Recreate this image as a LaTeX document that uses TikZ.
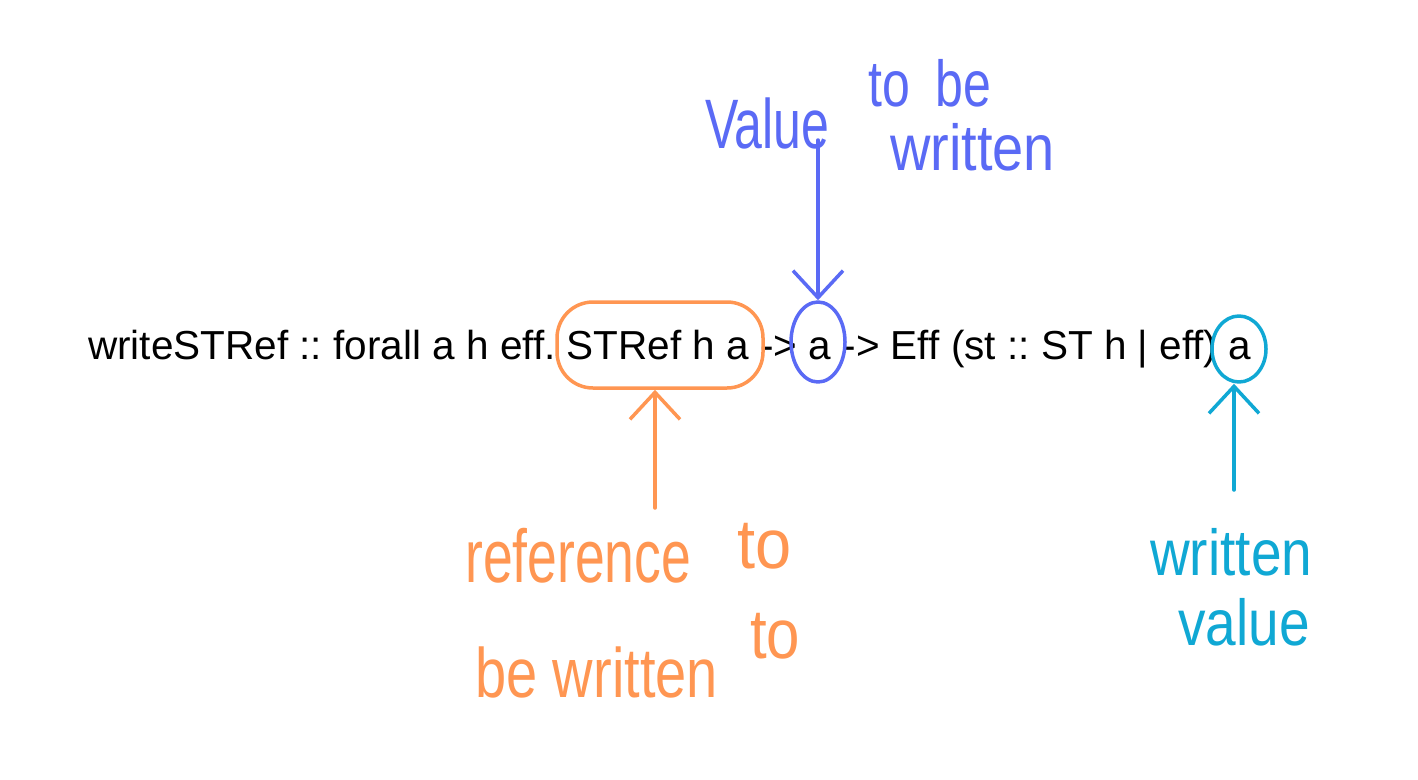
\documentclass[tikz,border=0pt]{standalone}
\usepackage{fontspec}
\setmainfont{Liberation Sans}
\usetikzlibrary{arrows.meta,shapes.geometric}
\definecolor{ora}{RGB}{255,150,82}
\definecolor{blu}{RGB}{90,106,245}
\definecolor{cya}{RGB}{16,168,212}
\frenchspacing
\begin{document}
\begin{tikzpicture}[x=1pt,y=-1pt,
  hand/.style={font=\fontsize{50}{56}\selectfont, inner sep=0pt, anchor=base west},
  ink/.style={line width=3.5pt, line cap=round, line join=round},
  barb/.style={-{Straight Barb[length=27pt,width=50pt]}}]
\fill[white] (0,0) rectangle (1418,779);
\useasboundingbox (0,0) rectangle (1418,779);
% main signature
\node[anchor=base west, inner sep=0pt, font=\fontsize{40.5}{48}\selectfont] (sig) at (88,359)
  {writeSTRef :: forall a h eff. STRef h a -> a -> Eff (st :: ST h | eff) a};
% highlight shapes
\node[draw=ora, ink, rounded corners=36pt, minimum width=206pt, minimum height=86pt, inner sep=0pt] (sref) at (660,345) {};
\node[draw=blu, ink, ellipse, minimum width=54pt, minimum height=80pt, inner sep=0pt] (va) at (818,342) {};
\node[draw=cya, ink, ellipse, minimum width=54pt, minimum height=66pt, inner sep=0pt] (ca) at (1239,349) {};
% blue annotation
\node[hand, text=blu] (bv) at (705,148) {\scalebox{1}[1.4]{Value}};
\node[hand, text=blu] (btb) at (868,106) {\scalebox{1}[1.3]{to\hspace{12pt} be}};
\node[hand, text=blu] (bw) at (890,170) {\scalebox{1.12}[1.3]{written}};
\coordinate (btail) at (818,140);
\draw[ink, blu, barb] (btail) -- (btail |- va.north);
% orange annotation
\node[hand, text=ora] (oref) at (465,582) {\scalebox{1.07}[1.5]{reference}};
\node[hand, text=ora] (oto1) at (737,568) {\scalebox{1.3}[1.4]{to}};
\node[hand, text=ora] (obw) at (475,697) {\scalebox{1.12}[1.4]{be written}};
\node[hand, text=ora] (oto2) at (750,658) {\scalebox{1.2}[1.4]{to}};
\coordinate (otail) at (655,508);
\draw[ink, ora, barb] (otail) -- (otail |- sref.south);
% cyan annotation
\node[hand, text=cya] (cw) at (1150,575) {\scalebox{1.1}[1.3]{written}};
\node[hand, text=cya] (cv) at (1178,645) {\scalebox{1.1}[1.3]{value}};
\coordinate (ctail) at (1234,490);
\draw[ink, cya, barb] (ctail) -- (ctail |- ca.south);
\end{tikzpicture}
\end{document}
